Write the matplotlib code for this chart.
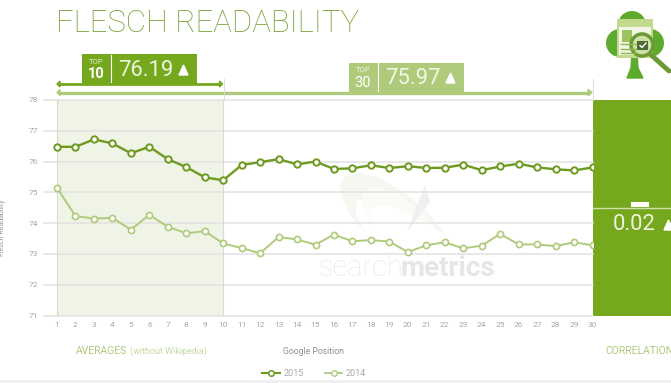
import matplotlib
matplotlib.use("Agg")
import matplotlib.pyplot as plt
from matplotlib.patches import Rectangle, Circle, Polygon

plt.rcParams['font.family'] = ['Roboto', 'DejaVu Sans']

# Valeurs
positions = list(range(1, 31))
flesch_2015 = [76.48, 76.48, 76.72, 76.59, 76.27, 76.48, 76.08, 75.82, 75.49, 75.39,
               75.89, 75.98, 76.08, 75.91, 76.00, 75.76, 75.78, 75.88, 75.79, 75.85,
               75.79, 75.80, 75.90, 75.72, 75.84, 75.93, 75.81, 75.75, 75.71, 75.81]
flesch_2014 = [75.15, 74.23, 74.15, 74.17, 73.79, 74.27, 73.88, 73.67, 73.74, 73.34,
               73.19, 73.02, 73.55, 73.47, 73.30, 73.63, 73.41, 73.45, 73.40, 73.06,
               73.28, 73.38, 73.18, 73.27, 73.65, 73.31, 73.31, 73.25, 73.38, 73.28]
y_ticks = [71, 72, 73, 74, 75, 76, 77, 78]

W, H = 671, 383
DARK = '#76a81e'
LIGHT = '#aecb7c'
TICK = '#a8a8a8'

fig = plt.figure(figsize=(W / 100, H / 100), dpi=100)

# Calque en pixels pour les décorations
deco = fig.add_axes([0, 0, 1, 1], zorder=0)
deco.set_xlim(0, W)
deco.set_ylim(H, 0)
deco.axis('off')

# Axe principal : x=1 -> 57 px, x=30 -> 592.5 px, y=78 -> 100 px, y=71 -> 315.5 px
L, R, T, B = 44, 593, 100, 315.5
px_per_x = (592.5 - 57) / 29
ax = fig.add_axes([L / W, 1 - B / H, (R - L) / W, (B - T) / H], zorder=2)
ax.patch.set_alpha(0)
ax.set_xlim(1 - (57 - L) / px_per_x, 1 + (R - 57) / px_per_x)
ax.set_ylim(71, 78)
for s in ax.spines.values():
    s.set_visible(False)
ax.set_yticks(y_ticks)
ax.set_xticks(positions)
for v in y_ticks:
    ax.axhline(v, color='#e2e2e2', lw=1.1, zorder=1, clip_on=False)
ax.tick_params(axis='both', length=0, labelsize=6, labelcolor=TICK)
ax.tick_params(axis='y', pad=4)
ax.tick_params(axis='x', pad=5)

# Bande Top 10
ax.axvspan(1, 10, color='#f0f4e6', lw=0, zorder=0)
ax.axvline(1, color='#d8dcd0', lw=0.8, zorder=1)
ax.axvline(10, color='#d8dcd0', lw=0.8, zorder=1)

ax.plot(positions, flesch_2014, color=LIGHT, lw=1.4, marker='o', ms=4.4,
        mfc='white', mec=LIGHT, mew=1.2, zorder=3)
ax.plot(positions, flesch_2015, color='#6d9a1f', lw=1.7, marker='o', ms=4.6,
        mfc='white', mec='#6d9a1f', mew=1.4, zorder=4)

# Titre
deco.text(56, 24, 'FLESCH READABILITY', fontsize=22.4, color='#76a035',
          fontweight='light', ha='left', va='center')

# Flèches et cartouches
deco.plot([59, 221], [84, 84], color=DARK, lw=2, solid_capstyle='butt')
deco.add_patch(Polygon([[57, 84], [60, 81], [60, 87]], color=DARK))
deco.add_patch(Polygon([[222.5, 84], [219.5, 81], [219.5, 87]], color=DARK))
deco.plot([59, 590], [92.5, 92.5], color=LIGHT, lw=2.4, solid_capstyle='butt')
deco.add_patch(Polygon([[57, 92.5], [60, 89.5], [60, 95.5]], color=LIGHT))
deco.add_patch(Polygon([[592, 92.5], [588, 89.5], [588, 95.5]], color=LIGHT))
deco.plot([223.5, 223.5], [79, 100], color='#dcdcdc', lw=0.7)
deco.plot([592.5, 592.5], [79, 100], color='#dcdcdc', lw=0.7)

deco.add_patch(Rectangle((82, 54), 115, 30, color=DARK, lw=0))
deco.plot([110.5, 110.5], [55, 82], color='white', lw=0.8)
deco.text(96, 62, 'TOP', fontsize=5.5, color='#dfeac8', ha='center', va='center')
deco.text(96, 73.5, '10', fontsize=10.5, color='white', fontweight='bold', ha='center', va='center')
deco.text(118.5, 70, '76.19', fontsize=15.8, color='#eef4e0', ha='left', va='center')
deco.add_patch(Polygon([[179, 75], [188, 75], [183.5, 65]], color='white'))

deco.add_patch(Rectangle((349, 63), 115, 30, color=LIGHT, lw=0))
deco.plot([377.5, 377.5], [63, 91], color='white', lw=0.8)
deco.text(363, 70, 'TOP', fontsize=5.5, color='#eef4e2', ha='center', va='center')
deco.text(363, 83, '30', fontsize=10.5, color='white', ha='center', va='center')
deco.text(385, 79, '75.97', fontsize=15.8, color='#f2f6e8', ha='left', va='center')
deco.add_patch(Polygon([[446, 83], [455, 83], [450.5, 73]], color='white'))

# Panneau corrélation
deco.add_patch(Rectangle((593, 100), 78, 216, color=DARK, lw=0))
deco.plot([593, 671], [208, 208], color='#cfe0a8', lw=1)
deco.add_patch(Rectangle((631, 202), 18, 5, color='white', lw=0))
deco.text(613, 225, '0.02', fontsize=15.8, color='#eef4e0', ha='left', va='center')
deco.add_patch(Polygon([[664, 230], [673, 230], [668.5, 220]], color='white'))

# Icône trèfle
CLUB = '#5eaa2c'
deco.add_patch(Circle((632, 25), 14, color=CLUB, lw=0))
deco.add_patch(Circle((620, 43), 14, color=CLUB, lw=0))
deco.add_patch(Circle((650, 43), 14, color=CLUB, lw=0))
deco.add_patch(Polygon([[632, 52], [637, 52], [638, 68], [643, 78], [627, 78], [631, 68]], color=CLUB))
deco.add_patch(Rectangle((617, 19), 36, 39, color='#c3d98f', lw=0))
deco.add_patch(Rectangle((619, 27), 32, 28, color='#f2f6e6', lw=0))
deco.add_patch(Rectangle((622, 30), 10, 12, color='#9cc35e', lw=0))
for yy in [44, 49, 53]:
    deco.plot([621, 636], [yy, yy], color='#8cba4a', lw=1)
deco.plot([650, 669], [54, 71], color='#6b9a35', lw=3.5, solid_capstyle='round')
deco.add_patch(Circle((642, 45), 11, fc='#cfe0a8', ec='#6b9a35', lw=2.5))
deco.add_patch(Rectangle((637, 41), 11, 9, color='#4a6a3a', lw=0))
deco.plot([640, 642, 646], [45.5, 47.5, 43], color='white', lw=1)

# Filigrane
deco.add_patch(Polygon([[365, 233], [350, 215], [342, 198], [340, 185], [346, 176], [360, 173],
                        [380, 178], [405, 193], [428, 213], [447, 237], [425, 220], [400, 205],
                        [375, 198], [358, 200], [355, 212]], color='#f6f7f1', lw=0))
deco.add_patch(Polygon([[372, 225], [362, 205], [362, 192], [375, 187], [395, 192], [420, 210],
                        [440, 232], [415, 216], [392, 206], [375, 206], [368, 212]], color='#fafbf7', lw=0))
deco.add_patch(Polygon([[425, 185], [430, 202], [407, 232]], color='#efefef', lw=0))
deco.text(319, 268, 'search', fontsize=21, color='#ebebeb', fontweight='light', ha='left', va='center')
deco.text(401, 268, 'metrics', fontsize=20, color='#e6e6e6', fontweight='bold', ha='left', va='center')

# Libellés bas de page
deco.text(76, 351, 'AVERAGES', fontsize=7.5, color=LIGHT, ha='left', va='center')
deco.text(130, 351, '(without Wikipedia)', fontsize=6.5, color='#c5daa2', ha='left', va='center')
deco.text(283, 351, 'Google Position', fontsize=6.2, color='#8f8f8f', ha='left', va='center')
deco.text(605, 351, 'CORRELATION', fontsize=7.5, color=LIGHT, ha='left', va='center')
deco.text(2.5, 228, 'Flesch Readability', fontsize=5, color='#9a9a9a', rotation=90, ha='center', va='center')

# Légende
deco.plot([262, 280], [373, 373], color='#6d9a1f', lw=1.5)
deco.plot([271], [373], marker='o', ms=4, mfc='white', mec='#6d9a1f', mew=1.1)
deco.text(284, 373, '2015', fontsize=6.5, color=TICK, ha='left', va='center')
deco.plot([325, 342], [373, 373], color=LIGHT, lw=1.3)
deco.plot([333.5], [373], marker='o', ms=4, mfc='white', mec=LIGHT, mew=1)
deco.text(346, 373, '2014', fontsize=6.5, color=TICK, ha='left', va='center')
deco.add_patch(Rectangle((0, 380), W, 3, color='#f0f0f0', lw=0))

fig.savefig('out.png', dpi=100)
